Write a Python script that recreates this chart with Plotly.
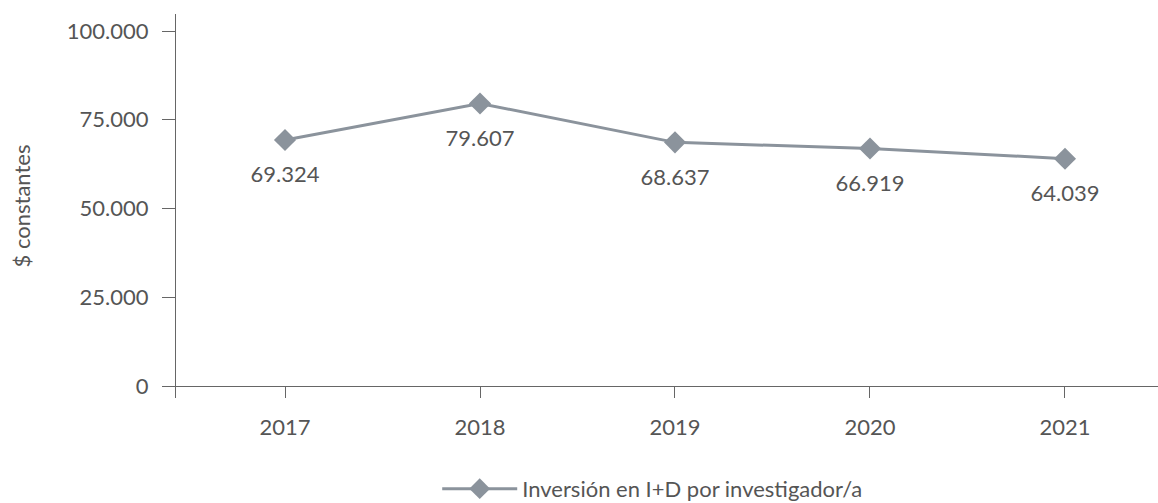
import plotly.graph_objects as go

years = ["2017", "2018", "2019", "2020", "2021"]
values = [69324, 79607, 68637, 66919, 64039]
y_ticks = [0, 25000, 50000, 75000, 100000]
series_name = "Inversión en I+D por investigador/a"
y_title = "$ constantes"

FONT = "Lato"
TXT = "#555555"
LINE = "#8b939c"
AX = "#666666"
FS = 22

fig = go.Figure()
fig.add_trace(go.Scatter(
    x=years, y=values, mode="lines+markers", name=series_name,
    line=dict(color=LINE, width=3),
    marker=dict(symbol="diamond", size=17, color=LINE),
))
# value labels placed below each point (invisible large marker gives the offset)
fig.add_trace(go.Scatter(
    x=years, y=values, mode="markers+text", showlegend=False, hoverinfo="skip",
    marker=dict(size=40, opacity=0, color=LINE),
    texttemplate="%{y:,}", textposition="bottom center",
    textfont=dict(family=FONT, size=FS, color=TXT),
))

fig.update_layout(
    width=1158, height=503,
    margin=dict(l=176, r=0, t=14, b=105, autoexpand=False),
    paper_bgcolor="white", plot_bgcolor="white",
    separators=",.",
    font=dict(family=FONT, size=FS, color=TXT),
    showlegend=True,
    legend=dict(orientation="h", x=0.266, xanchor="left", y=-0.182, yanchor="top",
                itemwidth=75, font=dict(family=FONT, size=FS, color=TXT)),
    xaxis=dict(
        type="category", range=[-0.559, 4.477], automargin=False,
        showline=False, showgrid=False, zeroline=False,
        ticks="inside", ticklen=12, tickcolor=AX, tickwidth=1,
        ticklabelstandoff=14,
        tickfont=dict(family=FONT, size=FS, color=TXT),
    ),
    yaxis=dict(
        range=[-3380, 104800], automargin=False,
        tickvals=y_ticks, tickformat=",",
        showline=True, linecolor=AX, linewidth=1,
        showgrid=False, zeroline=True, zerolinecolor=AX, zerolinewidth=1,
        ticks="outside", ticklen=13, tickcolor=AX, tickwidth=1,
        ticklabelstandoff=9,
        tickfont=dict(family=FONT, size=FS, color=TXT),
        title=dict(text=y_title, standoff=30, font=dict(family=FONT, size=FS, color=TXT)),
    ),
)

fig.write_html("out.html", config={"displayModeBar": False},
               post_script="document.body.style.margin='0';")
